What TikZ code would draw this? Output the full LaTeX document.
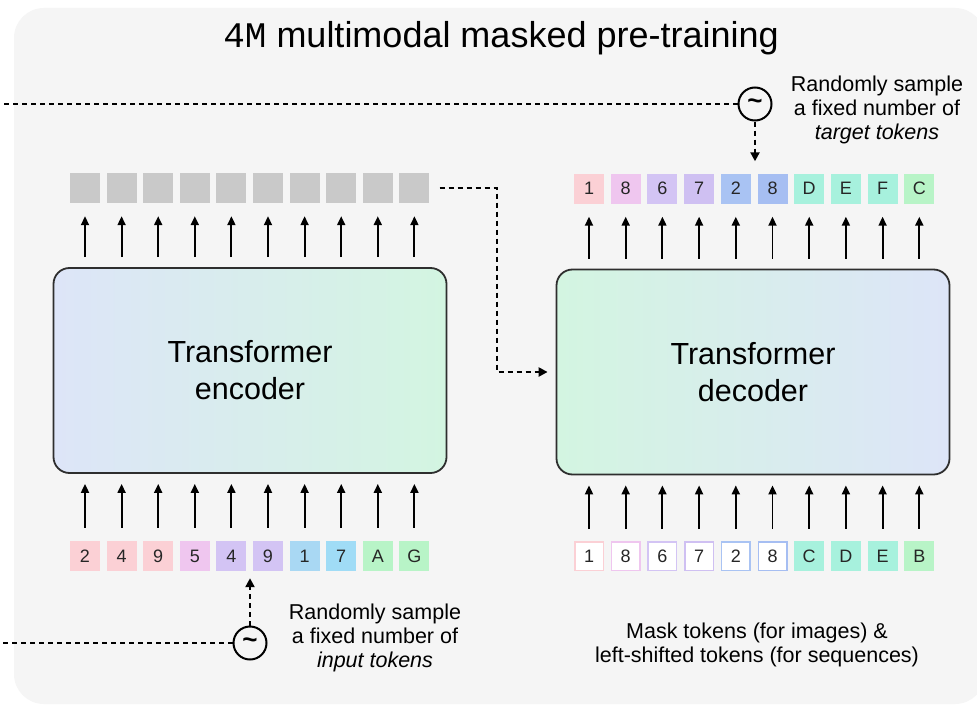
\documentclass[tikz,border=0pt]{standalone}
\usepackage{fontspec}
\setmainfont{Liberation Sans}
\newfontfamily\slabfont{Liberation Mono}
\usetikzlibrary{arrows.meta,shapes.geometric,calc}

\definecolor{bgcol}{HTML}{F5F5F5}
\definecolor{gridgray}{HTML}{C9C9C9}
\definecolor{boxline}{HTML}{2E2E2E}
\definecolor{lav}{HTML}{DDE5F8}
\definecolor{mint}{HTML}{D3F5E1}
% token palette
\definecolor{tpink}{HTML}{FBD0D5}
\definecolor{tmag}{HTML}{EFC6EF}
\definecolor{tviolet}{HTML}{D3C4F4}
\definecolor{tviolet2}{HTML}{CFC0F2}
\definecolor{tsky}{HTML}{A9D8F3}
\definecolor{tsky2}{HTML}{A0DCF6}
\definecolor{tblue}{HTML}{A9C3F3}
\definecolor{tblue2}{HTML}{A6BEF2}
\definecolor{tteal}{HTML}{A7F1DD}
\definecolor{tgreen}{HTML}{B8F4C7}

\tikzset{
  tokbase/.style={minimum size=30pt, inner sep=0pt, font=\fontsize{18}{18}\selectfont, text=black!85},
  tokfill/.style={tokbase, fill=#1},
  tokline/.style={tokbase, fill=white, draw=#1, line width=1.5pt, minimum size=28.5pt},
  blankbox/.style={minimum size=30pt, inner sep=0pt, fill=gridgray},
  trbox/.style={draw=boxline, line width=1.8pt, rounded corners=16pt,
    minimum width=393pt, minimum height=205pt, align=center,
    font=\fontsize{30.5}{37}\selectfont},
  uparr/.style={line width=1.9pt, -{Triangle[length=9pt,width=8pt]}},
  dashln/.style={line width=2.4pt, dash pattern=on 5pt off 4pt},
  dasharr/.style={dashln, -{Triangle[length=9pt,width=9pt]}},
  sampler/.style={circle, draw=black, line width=2pt, minimum size=33pt, inner sep=0pt,
    font=\fontsize{26}{26}\selectfont\bfseries},
  note/.style={align=center, font=\fontsize{21.5}{23.8}\selectfont, text=black},
}

\begin{document}
\begin{tikzpicture}[x=1pt,y=-1pt]
\useasboundingbox (0,0) rectangle (977,709);
\fill[white] (0,0) rectangle (977,709);
\fill[bgcol, rounded corners=30pt] (14,8) rectangle (985,704);

% title
\node (title) at (501,38) {\fontsize{36}{36}\selectfont{\slabfont 4M} multimodal masked pre-training};

% encoder / decoder blocks
\node[trbox, left color=lav, right color=mint] (enc) at (250,370.5) {Transformer\\encoder};
\node[trbox, left color=mint, right color=lav] (dec) at (753,372) {Transformer\\decoder};

% encoder outputs (gray placeholders)
\foreach \i in {1,...,10} {
  \node[blankbox] (eo\i) at ({85+36.6*(\i-1)},188) {};
  \draw[uparr, shorten <=10pt, shorten >=13pt] (enc.north -| eo\i) -- (eo\i.south);
}

% encoder input tokens
\foreach \i/\t/\c in {1/2/tpink,2/4/tpink,3/9/tpink,4/5/tmag,5/4/tviolet,6/9/tviolet,7/1/tsky,8/7/tsky2,9/A/tgreen,10/G/tgreen} {
  \node[tokfill=\c] (ei\i) at ({85+36.6*(\i-1)},556) {\t};
  \draw[uparr, shorten <=13pt, shorten >=10pt] (ei\i.north) -- (ei\i |- enc.south);
}

% decoder target tokens
\foreach \i/\t/\c in {1/1/tpink,2/8/tmag,3/6/tviolet,4/7/tviolet2,5/2/tblue,6/8/tblue2,7/D/tteal,8/E/tteal,9/F/tteal,10/C/tgreen} {
  \node[tokfill=\c] (do\i) at ({589+36.7*(\i-1)},188.5) {\t};
  \draw[uparr, shorten <=10pt, shorten >=13pt] (dec.north -| do\i) -- (do\i.south);
}

% decoder inputs: mask tokens and left-shifted tokens
\foreach \i/\t/\c in {1/1/tpink,2/8/tmag,3/6/tviolet,4/7/tviolet2,5/2/tblue,6/8/tblue2} {
  \node[tokline=\c] (di\i) at ({589+36.7*(\i-1)},556) {\t};
}
\foreach \i/\t/\c in {7/C/tteal,8/D/tteal,9/E/tteal,10/B/tgreen} {
  \node[tokfill=\c] (di\i) at ({589+36.7*(\i-1)},556) {\t};
}
\foreach \i in {1,...,10} {
  \draw[uparr, shorten <=12pt, shorten >=10pt] (di\i.north) -- (di\i |- dec.south);
}

% encoder output routed to decoder
\coordinate (bend) at (497,188);
\draw[dasharr, shorten >=8pt] ([xshift=10pt]eo10.east) -- (bend) |- (dec.west);

% target sampler
\node[sampler] (samptgt) at (755,104) {\textasciitilde};
\coordinate (tgtfeed) at (0,104);
\draw[dashln] (samptgt.west) -- (tgtfeed);
\draw[dasharr, shorten >=12pt] (samptgt.south) -- (samptgt |- do1.north);
\node[note] (tgtnote) at (877,110) {Randomly sample\\a fixed number of\\\textit{target tokens}};

% input sampler
\node[sampler] (sampin) at (250,643) {\textasciitilde};
\coordinate (infeed) at (0,643);
\draw[dashln] (sampin.west) -- (infeed);
\draw[dasharr, shorten >=7pt] (sampin.north) -- (sampin |- ei1.south);
\node[note] (innote) at (375,638) {Randomly sample\\a fixed number of\\\textit{input tokens}};

% decoder input caption
\node[note] (masknote) at (757,645) {Mask tokens (for images) \&\\left-shifted tokens (for sequences)};
\end{tikzpicture}
\end{document}
